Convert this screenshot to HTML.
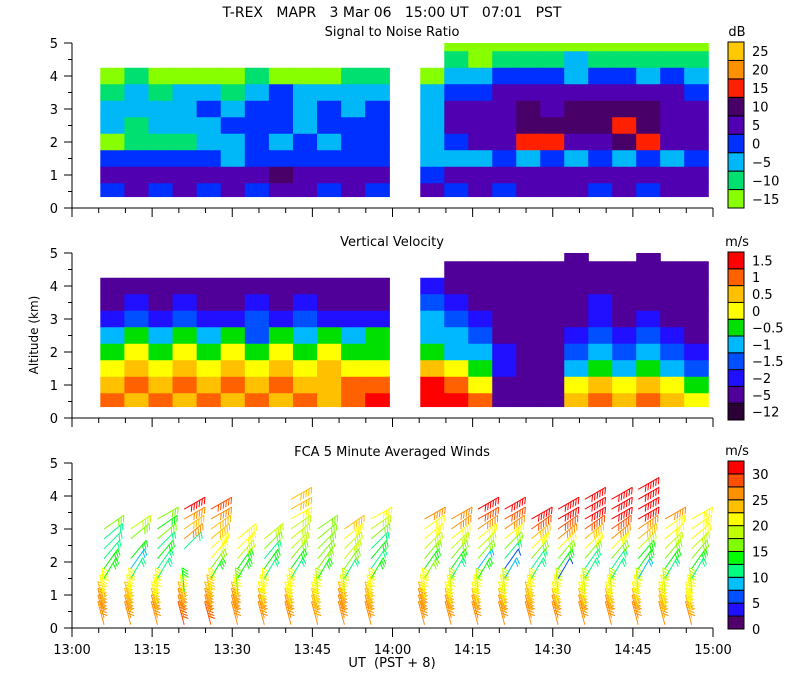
<!DOCTYPE html>
<html><head><meta charset="utf-8"><style>
body{margin:0;background:#fff;}
svg{display:block;font-family:"DejaVu Sans","Liberation Sans",sans-serif;}
</style></head><body>
<svg id="chart" width="800" height="700" xmlns="http://www.w3.org/2000/svg">
<rect width="800" height="700" fill="#fff"/>
<text x="392" y="17" font-size="14" text-anchor="middle" xml:space="preserve">T-REX   MAPR   3 Mar 06   15:00 UT   07:01   PST</text>
<text x="392" y="36" font-size="13" text-anchor="middle">Signal to Noise Ratio</text>
<text x="392" y="246" font-size="13" text-anchor="middle">Vertical Velocity</text>
<text x="392" y="456" font-size="13" text-anchor="middle">FCA 5 Minute Averaged Winds</text>
<text x="38" y="335" font-size="12" text-anchor="middle" transform="rotate(-90 38 335)">Altitude (km)</text>
<text x="392" y="667" font-size="13" text-anchor="middle" xml:space="preserve">UT  (PST + 8)</text>
<g id="layer"></g>
</svg>
<script>
// ---- data ----
const snrLevels = ["-15","-10","-5","0","5","10","15","20","25"];
const snrColors = ["#88ff00","#00e070","#00b8f8","#0030ff","#5000b0","#480068","#ff2000","#ff9000","#ffc800"];
const velLevels = ["-12","-5","-2","-1.5","-1","-0.5","0","0.5","1","1.5"];
const velColors = ["#2a0035","#500098","#2010ff","#0050ff","#00b8ff","#00e000","#ffff00","#ffc000","#ff6000","#ff0000"];
const windColors = ["#500068","#2010ff","#0050ff","#00c0ff","#00ff80","#00ff00","#80ff00","#c0ff00","#ffff00","#ffc000","#ff9000","#ff5000","#ff0000"];
const windTickLabels = ["0","5","10","15","20","25","30"];
const yTickLabels = ["0","1","2","3","4","5"];
const xTickLabels = ["13:00","13:15","13:30","13:45","14:00","14:15","14:30","14:45","15:00"];
const rowBottoms = [4.75,4.25,3.75,3.25,2.75,2.25,1.75,1.25,0.75,0.35];
const rowTops = [5,4.75,4.25,3.75,3.25,2.75,2.25,1.75,1.25,0.75];
const segStarts = [5.3,65.2];
const segEnds = [59.4,119.1];
const snrSeg1 = ["............","............","010000100011","121221232222","222232332323","212223332333","011122323233","333332333333","444444454444","343434344343"];
const snrSeg2 = [".00000000000",".10111211111","022333233232","233444444443","244454555544","244455556544","234466445644","222323232323","344444444444","434344434344"];
const velSeg1 = ["............","............","111111111111","121211212111","232322323222","454545354545","565656565655","676767676766","787878787788","878787878789"];
const velSeg2 = ["......1..1..",".11111111111","211111111111","321111121111","432111121211","443111232321","544211343432","765211454543","986111676765","998111787876"];
const windTimes = [6,11,16,21,26,31,36,41,46,51,56,66,71,76,81,86,91,96,101,106,111,116];
const windAlts = [0.1,0.3,0.5,0.7,0.9,1.1,1.5,1.8,2.1,2.4,2.7,3.0,3.3,3.6,3.9,4.2];
const windAngles = [105,105,105,105,100,95,60,55,50,45,40,35,30,30,30,30];
const windSpd = [
 [26,26,25,24,22,20,13,13,12,10,10,15,null,null,null,null],
 [26,25,24,23,22,20,12,8,13,null,17,18,null,null,null,null],
 [26,25,24,22,21,20,12,12,14,12,15,14,16,null,null,null],
 [28,27,25,24,22,14,null,null,null,12,26,24,27,30,null,null],
 [29,27,25,24,23,20,14,16,22,20,23,24,27,28,null,null],
 [27,26,25,24,22,16,14,14,18,20,22,null,null,null,null,null],
 [26,25,24,22,21,20,10,14,10,17,18,null,null,null,null,null],
 [26,25,24,22,21,20,10,14,17,18,19,19,21,23,23,null],
 [25,24,23,22,21,18,14,15,16,16,15,15,null,null,null,null],
 [27,26,25,24,22,18,12,17,18,19,20,24,null,null,null,null],
 [27,26,24,23,21,20,14,10,14,12,17,18,20,null,null,null],
 [27,26,25,23,22,20,15,14,16,18,20,22,25,null,null,null],
 [27,26,24,22,21,19,12,13,15,18,22,26,27,null,null,null],
 [27,26,24,22,20,18,14,8,16,18,22,26,28,30,null,null],
 [26,25,24,22,20,18,8,6,12,16,20,27,29,30,null,null],
 [26,25,24,23,22,20,12,12,16,20,24,28,30,null,null,null],
 [26,25,24,22,20,19,6,14,16,22,25,28,30,30,null,null],
 [26,25,24,22,21,18,12,12,16,22,24,28,30,30,30,null],
 [26,25,24,22,21,18,10,12,16,20,25,28,30,30,30,null],
 [26,25,24,22,21,19,8,14,14,18,23,27,30,30,30,30],
 [25,24,23,22,20,18,10,14,15,18,20,22,25,null,null,null],
 [26,24,22,21,20,18,12,14,15,18,20,20,21,null,null,null]
];
// ---- layout ----
const NS = "http://www.w3.org/2000/svg";
const layer = document.getElementById('layer');
const X0 = 72, X1 = 713;
const panels = [{y0:208},{y0:418},{y0:628}];
function xs(min){ return X0 + min*(X1-X0)/120; }
function ys(p, km){ return panels[p].y0 - km*33; }
function mk(tag, attrs, parent){
  const e = document.createElementNS(NS, tag);
  for (const k in attrs) e.setAttribute(k, attrs[k]);
  (parent||layer).appendChild(e);
  return e;
}
// heatmaps
function heat(p, segs, colors, name){
  const g = mk('g', {});
  
  
  segs.forEach((rows, s) => {
    const n = rows[0].length;
    const w = (segEnds[s]-segStarts[s])/n;
    rows.forEach((row, r) => {
      for (let c=0;c<n;c++){
        const ch = row[c];
        if (ch === '.') continue;
        const xa = xs(segStarts[s]+c*w), xb = xs(segStarts[s]+(c+1)*w);
        const ya = ys(p, rowTops[r]), yb = ys(p, rowBottoms[r]);
        const cell = mk('rect', {x:xa, y:ya, width:xb-xa+0.6, height:yb-ya+0.6, fill:colors[+ch]}, g);
        
        
      }
    });
  });
}
heat(0, [snrSeg1, snrSeg2], snrColors, 'snr-heatmap');
heat(1, [velSeg1, velSeg2], velColors, 'velocity-heatmap');
// wind barbs
function windColor(v){ return windColors[Math.max(0, Math.min(12, Math.floor(v/2.5)))]; }
windTimes.forEach((t, i) => {
  windSpd[i].forEach((v, j) => {
    if (v === null) return;
    const bx = xs(t), by = ys(2, windAlts[j]);
    const a = windAngles[j]*Math.PI/180, L = 24;
    const ux = Math.cos(a), uy = -Math.sin(a);
    const tx = bx + L*ux, ty = by + L*uy;
    const col = windColor(v);
    const g = mk('g', {stroke:col, 'stroke-width':1, fill:'none'});
    
    
    mk('line', {x1:bx, y1:by, x2:tx, y2:ty}, g);
    const nf = Math.round(v/5);
    for (let k=0;k<nf;k++){
      const px = tx - ux*k*3, py = ty - uy*k*3;
      mk('line', {x1:px, y1:py, x2:px + 7*Math.cos(a-2.2), y2:py - 7*Math.sin(a-2.2)}, g);
    }
  });
});
// axes
panels.forEach((pp, p) => {
  const g = mk('g', {stroke:'#000', 'stroke-width':1});
  
  
  mk('line', {x1:X0, y1:ys(p,5), x2:X0, y2:pp.y0}, g);
  mk('line', {x1:X0, y1:pp.y0, x2:X1, y2:pp.y0}, g);
  for (let k=0;k<=10;k++){
    const y = ys(p, k*0.5);
    mk('line', {x1:X0-(k%2?4:8), y1:y, x2:X0, y2:y}, g);
  }
  yTickLabels.forEach((lb, k) => {
    const t = mk('text', {x:58, y:ys(p,k)+5, 'font-size':13, 'text-anchor':'end', stroke:'none', fill:'#000'});
    t.textContent = lb;
    
    
  });
  for (let m=0;m<=120;m+=5){
    const x = xs(m);
    mk('line', {x1:x, y1:pp.y0, x2:x, y2:pp.y0+(m%15?5:9)}, g);
  }
});
xTickLabels.forEach((lb, k) => {
  const t = mk('text', {x:xs(k*15), y:654, 'font-size':13, 'text-anchor':'middle'});
  t.textContent = lb;
  
  
});
// colorbars
function cbar(top, bottom, colors, labels, unit, name, labelStep){
  const g = mk('g', {});
  
  
  const n = colors.length, h = (bottom-top)/n;
  colors.forEach((c, i) => {
    const r = mk('rect', {x:728, y:bottom-(i+1)*h, width:16, height:h, fill:c, stroke:'#000', 'stroke-width':1}, g);
    
    
  });
  labels.forEach((lb, i) => {
    const t = mk('text', {x:752, y:bottom - i*labelStep*h - (labelStep===1?h/2:0) + 5, 'font-size':13}, g);
    t.textContent = lb.replace('-', '\u2212');
    
    
  });
  const u = mk('text', {x:737, y:top-6, 'font-size':13, 'text-anchor':'middle'}, g);
  u.textContent = unit;
  
  
}
cbar(42, 208, snrColors, snrLevels, 'dB', 'snr-colorbar', 1);
cbar(252, 420, velColors, velLevels, 'm/s', 'velocity-colorbar', 1);
cbar(461, 629, windColors, windTickLabels, 'm/s', 'wind-colorbar', 2);
</script>
</body></html>
